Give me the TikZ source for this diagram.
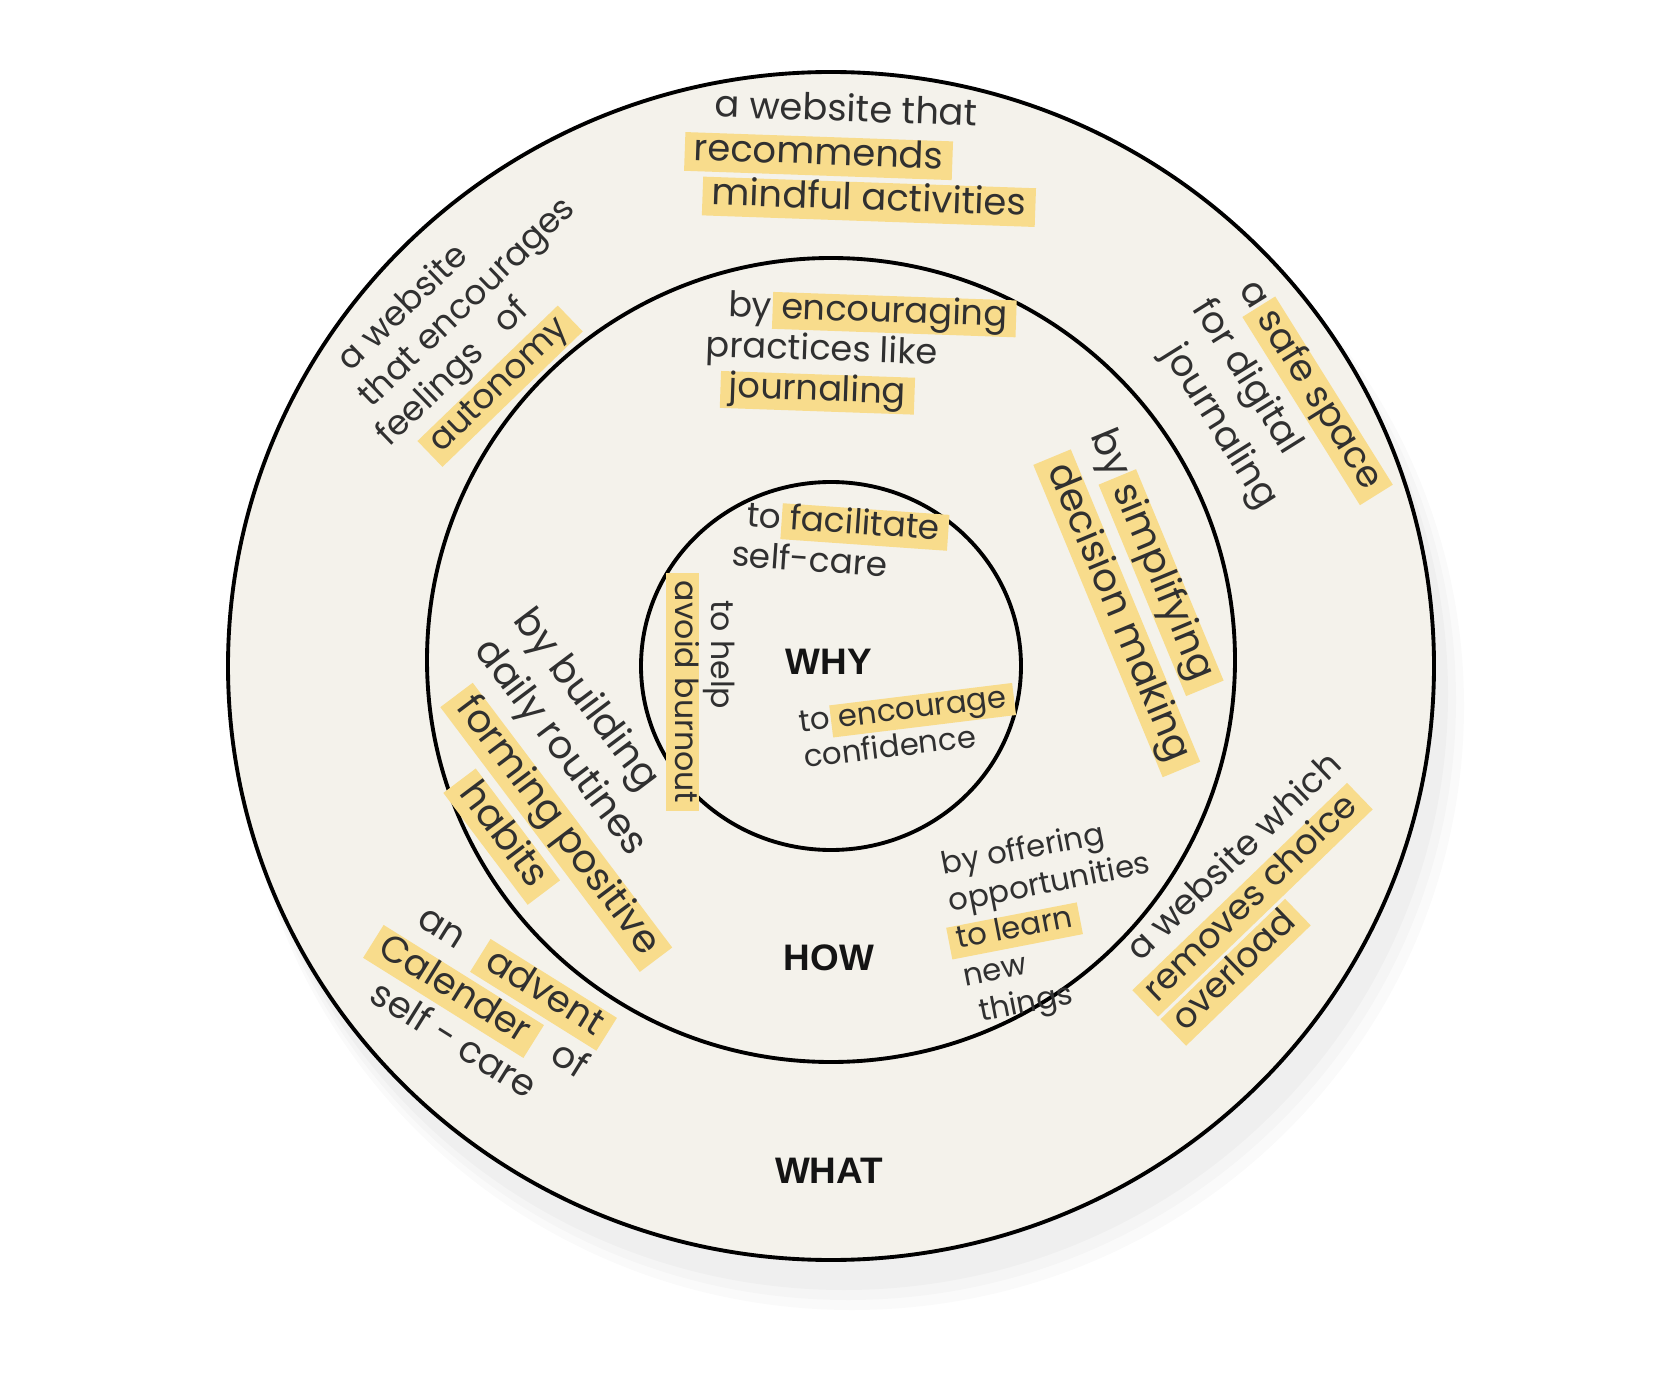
\documentclass[tikz,border=0pt]{standalone}
\usepackage{fontspec}
\setmainfont{Poppins}
\newfontfamily\labelfont{Liberation Sans}
\definecolor{cream}{HTML}{F4F2EB}
\definecolor{hlc}{HTML}{F8DC8C}
\definecolor{ink}{HTML}{303030}
\newsavebox\hlbox
\newcommand\hlt[1]{\sbox\hlbox{#1}\leavevmode\smash{\rlap{\kern-0.25em\textcolor{hlc}{\rule[-0.3em]{\dimexpr\wd\hlbox+0.5em\relax}{1.05em}}}}\usebox\hlbox}
\newcommand\tightlines{\lineskiplimit-100pt\relax}
\begin{document}
\begin{tikzpicture}[x=0.02cm,y=-0.02cm,
  hand/.style n args={2}{font={\fontsize{#1}{#2}\selectfont\tightlines}, text=ink, align=left, inner sep=0pt},
  ring/.style={draw=black, line width=2.2pt, fill=cream},
  lbl/.style={font=\labelfont\bfseries\fontsize{21}{24}\selectfont, text=black!92, inner sep=0pt}]
\useasboundingbox (0,0) rectangle (1660,1388);
\fill[white] (0,0) rectangle (1660,1388);
% soft shadow
\fill[black,opacity=0.02] (852,706) ellipse [x radius=612, y radius=604];
\fill[black,opacity=0.02] (848,700) ellipse [x radius=608, y radius=600];
\fill[black,opacity=0.025] (844,694) ellipse [x radius=604, y radius=596];
% rings
\draw[ring] (831,666) ellipse [x radius=603, y radius=594];
\draw[ring] (831,660) ellipse [x radius=404, y radius=402];
\draw[ring] (831,666) ellipse [x radius=190, y radius=184];
% labels
\node[lbl] (why) at (829,662) {WHY};
\node[lbl] (how) at (829,958) {HOW};
\node[lbl] (what) at (829,1171) {WHAT};
% WHAT ring
\node[hand={21}{25}, rotate=-2] (tA) at (861,152)
  {\hspace*{11pt}a website that\\\hlt{recommends}\\\hspace*{11pt}\hlt{mindful activities}};
\node[hand={19.5}{23}, rotate=44] (tB) at (477,323)
  {\hspace*{14pt}a website\\\hspace*{8pt}that encourages\\feelings\hspace{0.6em} of\\\hspace*{19pt}\hlt{autonomy}};
\node[hand={21}{28}, rotate=-58] (tC) at (1265,408)
  {\hspace*{5pt}a \hlt{safe space}\\for digital\\\hspace*{13pt}journaling};
\node[hand={20}{23}, rotate=44] (tK) at (1255,890)
  {\hspace*{9pt}a website which\\\hlt{removes choice}\\\hlt{overload}};
\node[hand={21}{25.5}, rotate=-32] (tL) at (485,1005)
  {\hspace*{10pt}an\hspace{0.6em} \hlt{advent}\\\hlt{Calender}\hspace{0.6em} of\\\hspace*{10pt}self - care};
% HOW ring
\node[hand={20}{23}, rotate=-2] (tD) at (856,353)
  {\hspace*{12pt}by \hlt{encouraging}\\practices like\\\hspace*{14pt}\hlt{journaling}};
\node[hand={22}{30}, rotate=-67.5] (tH) at (1139,596)
  {by \hlt{simplifying}\\\hspace*{8.5pt}\hlt{decision making}};
\node[hand={22}{28}, rotate=-53] (tI) at (570,795)
  {by building\\daily routines\\\hspace*{20pt}\hlt{forming positive}\\\hspace*{60pt}\hlt{habits}};
\node[hand={17.5}{21.5}, rotate=11] (tJ) at (1057,922)
  {by offering\\opportunities\\\hlt{to learn}\\new\\\hspace*{5pt}things};
% WHY circle
\node[hand={19.5}{23}, rotate=-4] (tE) at (836,540)
  {\hspace*{7pt}to \hlt{facilitate}\\self-care};
\node[hand={18}{20.5}, rotate=-90] (tF) at (705,692)
  {\hspace*{11pt}to help\\\hlt{avoid burnout}};
\node[hand={17.5}{20.5}, rotate=7] (tG) at (905,727)
  {to \hlt{encourage}\\confidence};
\end{tikzpicture}
\end{document}
